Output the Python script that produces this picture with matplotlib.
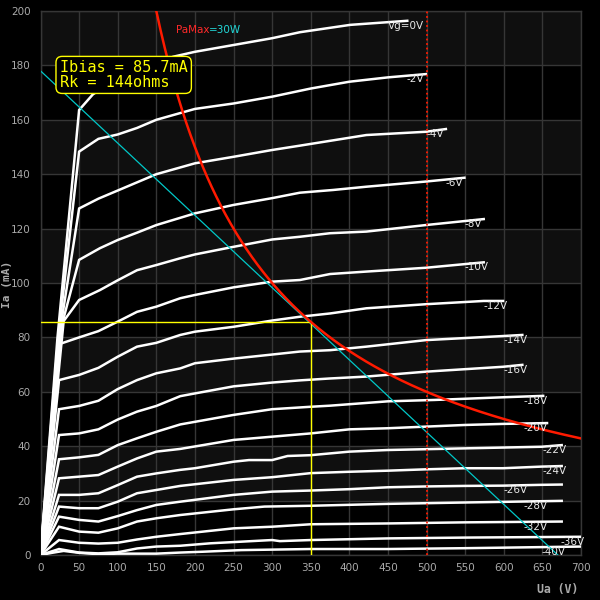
import matplotlib
matplotlib.use("Agg")
import matplotlib.pyplot as plt
import numpy as np

# ---------------- data ----------------
grid_voltages = ["Vg=0V", "-2V", "-4V", "-6V", "-8V", "-10V", "-12V", "-14V", "-16V",
                 "-18V", "-20V", "-22V", "-24V", "-26V", "-28V", "-32V", "-36V", "-40V"]

curve_0V = [(0, 0), (22, 80), (50, 163.6), (68, 169.4), (100, 175), (125, 178.5), (150, 181),
            (172, 183.2), (200, 185), (250, 187.5), (300, 190), (336, 192.2), (401, 194.9), (475, 196.4)]
curve_2V = [(0, 0), (23, 80), (50, 148.3), (75, 153), (100, 154.6), (125, 157), (150, 160),
            (175, 162), (200, 164), (250, 166), (300, 168.5), (350, 171.5), (400, 174), (450, 175.6), (499, 176.8)]
curve_4V = [(0, 0), (25, 82), (50, 127.4), (75, 131), (100, 134), (125, 137), (150, 140), (200, 144),
            (250, 146.4), (300, 148.9), (336, 150.5), (422, 154.4), (499, 155.6), (525, 156.6)]
curve_6V = [(0, 0), (28, 85), (50, 108.5), (77, 112.8), (100, 115.8), (125, 118.5), (150, 121.3),
            (200, 125.6), (250, 128.7), (300, 131.2), (336, 133.2), (379, 134.2), (422, 135.4), (499, 137.3), (549, 138.7)]
curve_8V = [(0, 0), (30, 86), (50, 93.75), (77, 97.4), (100, 101), (125, 104.7), (150, 106.6),
            (181, 109.1), (200, 110.5), (250, 113.3), (300, 116), (336, 117), (375, 118.3), (422, 118.9), (499, 121.3), (574, 123.5)]
curve_10V = [(0, 0), (24, 77.5), (50, 80), (75, 82.3), (100, 85.8), (125, 89.4), (150, 91.3),
             (181, 94.4), (200, 95.6), (250, 98.4), (300, 100.5), (336, 101.1), (375, 103.3), (422, 104.2), (499, 105.6), (574, 107.6)]
curve_12V = [(0, 0), (24, 64.3), (50, 66.2), (75, 68.8), (100, 72.9), (125, 76.6), (150, 78),
             (181, 80.9), (200, 82.1), (250, 83.9), (300, 86.2), (336, 87.6), (375, 88.8), (422, 90.7), (499, 92.2), (574, 93.4), (599, 93.4)]
curve_14V = [(0, 0), (24, 53.6), (50, 54.8), (75, 56.7), (100, 61), (125, 64.3), (150, 66.8),
             (181, 68.6), (200, 70.5), (250, 72.2), (300, 73.7), (336, 74.8), (375, 75.3), (422, 76.6), (499, 79), (599, 80.5), (624, 80.9)]
curve_16V = [(0, 0), (24, 44.1), (50, 44.7), (75, 46.2), (100, 49.8), (125, 52.7), (150, 54.8),
             (181, 58.4), (200, 59.4), (250, 62), (300, 63.4), (336, 64.2), (375, 64.9), (422, 65.6), (499, 67.4), (599, 69.2), (624, 69.9)]
curve_18V = [(0, 0), (24, 35.2), (50, 35.9), (75, 36.8), (100, 40.4), (125, 42.9), (150, 45.3),
             (181, 48), (250, 51.5), (300, 53.6), (350, 54.5), (375, 54.9), (450, 56.5), (510, 57), (600, 58), (651, 58.5)]
curve_20V = [(0, 0), (24, 28.2), (50, 28.8), (75, 29.4), (100, 32.5), (125, 35.5), (150, 38),
             (181, 39), (250, 42.3), (300, 43.5), (350, 44.7), (400, 46.2), (450, 46.6), (499, 47.2), (549, 47.8), (599, 48.2), (656, 48.5)]
curve_22V = [(0, 0), (24, 22.1), (50, 22.1), (75, 22.7), (100, 25.7), (125, 28.8), (150, 30),
             (181, 31.3), (200, 31.9), (250, 34.3), (270, 34.9), (300, 34.9), (320, 36.4), (350, 36.7),
             (400, 38), (450, 38.6), (499, 38.9), (549, 39.2), (599, 39.5), (649, 39.8), (675, 40.4)]
curve_24V = [(0, 0), (24, 17.8), (50, 17.2), (75, 17.2), (100, 19.6), (125, 22.7), (150, 23.9),
             (181, 25.4), (250, 27.6), (300, 28.6), (350, 30.1), (400, 30.6), (450, 31), (499, 31.5),
             (549, 31.9), (599, 31.9), (649, 32.5), (675, 32.7)]
curve_26V = [(0, 0), (24, 14.1), (50, 12.9), (75, 12.3), (100, 14.3), (125, 16.5), (150, 18.4),
             (181, 19.6), (250, 22.1), (300, 23.3), (350, 23.7), (400, 24.2), (450, 24.9), (499, 25.2),
             (549, 25.4), (599, 25.5), (649, 25.8), (675, 25.9)]
curve_28V = [(0, 0), (24, 10.4), (50, 8.6), (75, 8.2), (100, 9.8), (125, 12.3), (150, 13.5),
             (181, 14.7), (250, 16.8), (290, 17.8), (350, 18.1), (450, 18.8), (549, 19.3), (675, 19.9)]
curve_32V = [(0, 0), (24, 5.5), (50, 4.5), (75, 4.2), (100, 4.5), (125, 5.7), (150, 6.7),
             (181, 7.7), (250, 9.8), (300, 10.4), (350, 11.3), (450, 11.6), (549, 12), (675, 12.3)]
curve_36V = [(0, 0), (24, 2.2), (50, 0.9), (75, 0.6), (100, 1.0), (125, 2.4), (150, 3.1),
             (181, 3.4), (220, 4.3), (260, 4.9), (300, 5.5), (310, 5.1), (350, 5.5), (450, 6.1),
             (549, 6.4), (600, 6.5), (699, 6.7)]
curve_40V = [(0, 0), (15, 0.8), (30, 1.5), (50, 0.8), (75, 0.3), (100, 0.5), (150, 0.5),
             (181, 0.9), (210, 1.2), (260, 1.8), (350, 2.2), (450, 2.2), (549, 2.5), (699, 3.1)]

curves = [curve_0V, curve_2V, curve_4V, curve_6V, curve_8V, curve_10V, curve_12V, curve_14V,
          curve_16V, curve_18V, curve_20V, curve_22V, curve_24V, curve_26V, curve_28V,
          curve_32V, curve_36V, curve_40V]

pa_max_w = 30.0
ua_bias = 350.0
ia_bias = 85.7
rk_ohms = 144
loadline_ia0 = 178.0      # Ia at Ua = 0
loadline_ua0 = 670.0      # Ua at Ia = 0
ua_max_line = 500.0

x_ticks = list(range(0, 701, 50))
y_ticks = list(range(0, 201, 20))

# ---------------- style ----------------
bg = "#000000"
band = "#0f0f0f"
gridc = "#363636"
tickc = "#aaaaaa"
label_shift = {"-26V": -75, "-28V": -50, "-32V": -50, "-40V": -50, "-20V": -31}

fig = plt.figure(figsize=(6, 6), dpi=100, facecolor=bg)
ax = fig.add_axes([40.5 / 600, 1 - 555 / 600, (581 - 40.5) / 600, (555 - 11) / 600])
ax.set_facecolor(bg)
ax.set_xlim(0, 700)
ax.set_ylim(0, 200)

for y0 in range(20, 200, 40):
    ax.axhspan(y0, y0 + 20, color=band, zorder=0, lw=0)

ax.set_xticks(x_ticks)
ax.set_yticks(y_ticks)
ax.grid(True, color=gridc, lw=1.0, zorder=0.5)
ax.set_axisbelow(True)
for s in ax.spines.values():
    s.set_color(gridc)
    s.set_linewidth(1.0)
ax.tick_params(colors=tickc, labelsize=7.5, length=0, pad=6)
ax.tick_params(axis="y", pad=7)
for lab in ax.get_xticklabels() + ax.get_yticklabels():
    lab.set_color(tickc)

# curves
for name, pts in zip(grid_voltages, curves):
    ua = [p[0] for p in pts]
    ia = [p[1] for p in pts]
    ax.plot(ua, ia, color="white", lw=1.8, zorder=3, solid_joinstyle="miter")
    shift = label_shift.get(name, -25)
    ax.text(ua[-1] + shift, ia[-1], name, color="#e8e8e8", fontsize=7.5,
            ha="left", va="top", zorder=6, family="DejaVu Sans")

# Pa max hyperbola
ua_pa = np.linspace(pa_max_w * 1000 / 200, 700, 400)
ax.plot(ua_pa, pa_max_w * 1000 / ua_pa, color="#ff1a00", lw=1.8, zorder=5)

# Ua max dotted line
ax.plot([ua_max_line, ua_max_line], [0, 200], color="#ff1a00", lw=1.3,
        ls=(0, (1, 1.5)), zorder=5)

# load line
ax.plot([0, loadline_ua0], [loadline_ia0, 0], color="#00c8c8", lw=0.9, zorder=4)

# bias lines
ax.plot([0, ua_bias], [ia_bias, ia_bias], color="#ffff00", lw=1.0, zorder=4.5)
ax.plot([ua_bias, ua_bias], [0, ia_bias], color="#ffff00", lw=1.0, zorder=4.5)

# PaMax label
t1 = ax.text(175, 193, "PaMax", color="#ff2a2a", fontsize=7.5, ha="left", va="center", zorder=6)
fig.canvas.draw()
bb = t1.get_window_extent()
inv = ax.transData.inverted()
x_end = inv.transform((bb.x1, bb.y0))[0]
ax.text(x_end, 193, "=30W", color="#22d8d8", fontsize=7.5, ha="left", va="center", zorder=6)

# annotation box
ax.text(25, 176.5, f"Ibias = {ia_bias}mA\nRk = {rk_ohms}ohms", color="#ffff00",
        fontsize=11, family="DejaVu Sans Mono", ha="left", va="center", multialignment="left",
        linespacing=0.95, zorder=8,
        bbox=dict(boxstyle="round,pad=0.25,rounding_size=0.4", fc="black", ec="#ffff00", lw=1.0))

# axis labels
fig.text(7.5 / 600, 1 - 284 / 600, "Ia (mA)", rotation=90, color=tickc, fontsize=8,
         family="DejaVu Sans Mono", fontweight="bold", ha="center", va="center")
fig.text(578 / 600, 1 - 590 / 600, "Ua (V)", color=tickc, fontsize=8.3,
         family="DejaVu Sans Mono", fontweight="bold", ha="right", va="center")

fig.savefig("out.png", dpi=100, facecolor=bg)
